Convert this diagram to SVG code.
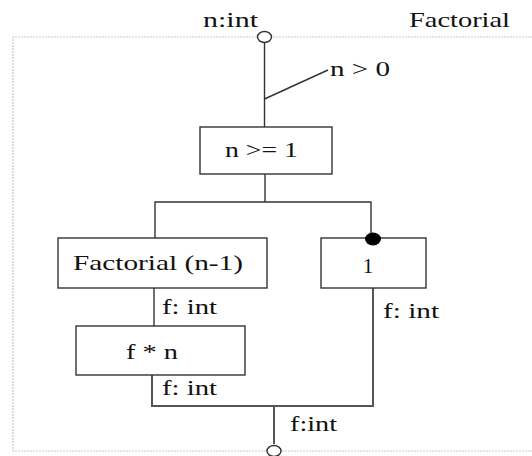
<svg xmlns="http://www.w3.org/2000/svg" width="532" height="456" viewBox="0 0 532 456" font-family="'Liberation Serif', 'Times New Roman', serif" font-size="21">
<style>
.frame{fill:none;stroke:#c8c8c8;stroke-width:1.2;stroke-dasharray:2 1}
.box{fill:#fff;stroke:#333;stroke-width:1.4}
.ln{fill:none;stroke:#333;stroke-width:1.4}
.lnb{fill:none;stroke:#555;stroke-width:2}
.t{font-family:'Liberation Serif','Times New Roman',serif;font-size:21px;fill:#111}
.c{text-anchor:middle}
</style>
<rect width="532" height="456" fill="#fff"/>
<path class="frame" d="M533 37 H13 V451 H533"/>
<text class="t" x="203" y="27" textLength="55" lengthAdjust="spacingAndGlyphs">n:int</text>
<text class="t" x="409" y="27" textLength="101" lengthAdjust="spacingAndGlyphs">Factorial</text>
<g id="connectors">
<line class="ln" x1="264.5" y1="43" x2="264.5" y2="127"/>
<polyline class="ln" points="264.5,99 282,91 328,70"/>
<line class="ln" x1="265" y1="174" x2="265" y2="202"/>
<polyline class="ln" points="155,238 155,202 371,202 371,238"/>
<line class="ln" x1="154" y1="288" x2="154" y2="326"/>
<polyline class="lnb" points="152,375 152,406 373,406 373,288"/>
<line class="lnb" x1="274" y1="406" x2="274" y2="444"/>
<text class="t" x="330" y="76" textLength="60" lengthAdjust="spacingAndGlyphs">n &gt; 0</text>
<text class="t" x="162" y="314" textLength="55" lengthAdjust="spacingAndGlyphs">f: int</text>
<text class="t" x="383" y="318" textLength="56" lengthAdjust="spacingAndGlyphs">f: int</text>
<text class="t" x="162" y="395" textLength="55" lengthAdjust="spacingAndGlyphs">f: int</text>
<text class="t" x="290" y="431" textLength="47" lengthAdjust="spacingAndGlyphs">f:int</text>
</g>
<g id="in-port"><ellipse cx="264.5" cy="37" rx="7" ry="5.5" fill="#fff" stroke="#333" stroke-width="1.4"/></g>
<g id="out-port"><ellipse cx="274" cy="451" rx="7" ry="5.5" fill="#fff" stroke="#333" stroke-width="1.4"/></g>
<g id="cond"><rect class="box" x="200" y="127" width="132" height="47"/><text class="t" x="225" y="157" textLength="73" lengthAdjust="spacingAndGlyphs">n &gt;= 1</text></g>
<g id="factorial"><rect class="box" x="58" y="238" width="209" height="50"/><text class="t" x="73" y="270" textLength="170" lengthAdjust="spacingAndGlyphs">Factorial (n-1)</text></g>
<g id="one"><rect class="box" x="321" y="238" width="105" height="50"/><text class="t c" x="368" y="273">1</text></g>
<g id="dot"><ellipse cx="373" cy="239" rx="8" ry="6.5" fill="#000"/></g>
<g id="mult"><rect class="box" x="76" y="326" width="169" height="49"/><text class="t" x="126" y="359" textLength="52" lengthAdjust="spacingAndGlyphs">f * n</text></g>
</svg>
